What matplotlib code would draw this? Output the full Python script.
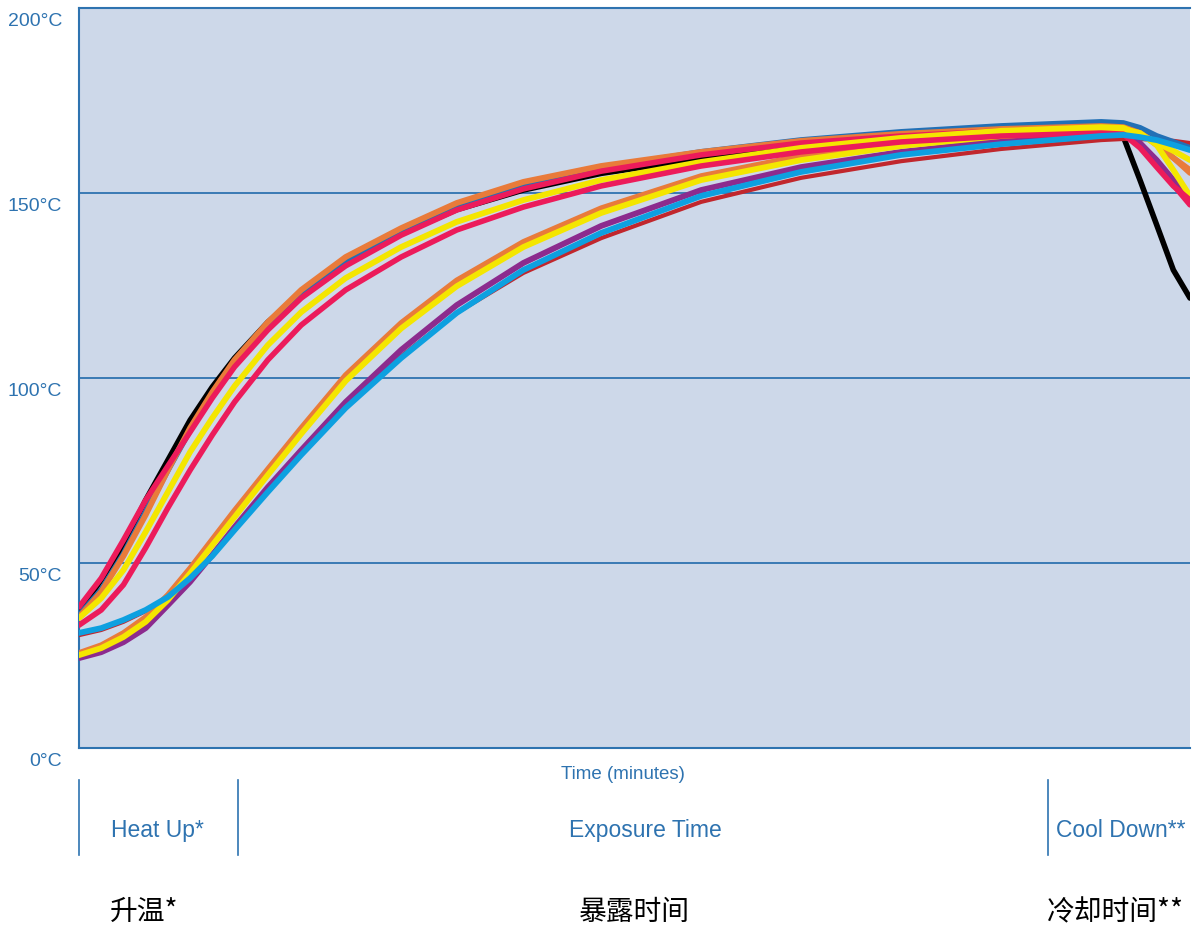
import matplotlib
matplotlib.use("Agg")
import matplotlib.pyplot as plt
import matplotlib.transforms as mtransforms

# ── data (time in arbitrary minutes 0-100, temp °C) ──
time = [0, 2, 4, 6, 8, 10, 12, 14, 17, 20, 24, 29, 34, 40, 47, 56, 65, 74,
        83, 92, 94, 95.5, 97, 98.5, 100]

dark_red = [30.5, 31.9, 34.1, 37.0, 40.5, 45.7, 51.9, 58.9, 69.7, 79.7, 92.7,
            105.9, 117.6, 128.4, 137.8, 147.6, 154.1, 158.6, 161.9, 164.3,
            164.6, 164.6, 164.3, 164.1, 163.5]
dark_blue = [35.9, 42.7, 52.4, 63.8, 75.1, 85.9, 95.4, 104.1, 114.3, 123.0,
             131.6, 139.7, 146.2, 151.9, 156.8, 161.1, 164.3, 166.5, 168.1,
             169.2, 168.9, 167.6, 165.4, 163.8, 162.2]
orange_fast = [35.4, 42.2, 51.9, 63.0, 75.1, 86.5, 96.2, 104.9, 115.1, 123.8,
               132.7, 140.5, 147.3, 153.0, 157.3, 161.1, 164.1, 166.0, 167.3,
               168.1, 167.8, 166.2, 163.0, 159.5, 156.2]
pink_1 = [38.1, 45.9, 56.2, 67.0, 76.2, 85.4, 94.6, 103.0, 113.0, 121.6,
          130.3, 138.6, 145.4, 151.1, 155.9, 160.3, 163.5, 165.4, 166.8,
          167.3, 166.8, 163.0, 157.6, 152.2, 146.8]
purple = [24.3, 25.9, 28.6, 32.4, 38.6, 44.9, 52.2, 59.7, 70.5, 80.5, 93.5,
          107.6, 119.7, 131.1, 141.1, 150.8, 157.0, 161.1, 164.1, 165.7,
          165.9, 163.5, 158.9, 153.5, 148.6]
orange_slow = [25.7, 27.8, 31.1, 35.4, 41.4, 48.6, 56.4, 64.2, 75.4, 86.5,
               100.8, 114.9, 126.4, 136.8, 145.9, 154.6, 160.0, 163.5, 165.9,
               167.3, 167.3, 166.2, 163.5, 159.5, 155.4]
yellow_slow = [25.1, 27.0, 30.0, 34.1, 40.0, 47.2, 54.8, 62.4, 73.8, 84.9,
               99.2, 113.4, 124.8, 135.4, 144.6, 153.5, 158.9, 162.7, 165.4,
               167.0, 167.3, 166.2, 163.0, 156.2, 149.2]
yellow_fast = [35.1, 40.5, 48.1, 58.4, 69.2, 80.0, 89.2, 97.8, 108.9, 117.8,
               127.0, 135.4, 142.2, 148.1, 153.5, 158.4, 162.2, 164.9, 166.8,
               167.8, 167.6, 165.7, 163.5, 161.4, 158.9]
pink_2 = [33.2, 37.3, 44.1, 54.1, 64.9, 75.1, 84.6, 93.5, 104.9, 114.3, 123.8,
          132.7, 140.0, 146.2, 151.9, 157.3, 161.1, 163.8, 165.4, 166.2, 165.9,
          162.2, 157.0, 151.9, 148.1]
light_blue = [31.1, 32.4, 34.6, 37.3, 40.8, 45.9, 51.9, 58.9, 69.2, 79.2,
              91.9, 105.4, 117.6, 129.2, 139.2, 149.2, 155.7, 160.3, 163.2,
              165.4, 165.7, 165.1, 164.3, 163.0, 161.6]
black = [36.8, 45.4, 54.9, 67.0, 77.8, 88.6, 97.6, 105.4, 115.1, 123.0, 131.0,
         139.0, 145.5, 150.8, 155.3, 159.3, 162.3, 164.2, 165.5, 166.0, 165.2,
         153.5, 141.4, 129.2, 121.6]

y_ticks = [0, 50, 100, 150, 200]
y_labels = ["0°C", "50°C", "100°C", "150°C", "200°C"]

phase_edges = [0, 14.3, 87.2]
phase_names = ["Heat Up*", "Exposure Time", "Cool Down**"]
phase_centers = [7.1, 51.0, 93.8]
phase_names_cn = ["升温*", "暴露时间", "冷却时间**"]
phase_centers_cn = [5.9, 50.0, 93.3]

# draw order: first is at the bottom
series = [
    (black,       "#000000", 4.0),
    (dark_red,    "#C1272D", 3.0),
    (dark_blue,   "#2270B6", 4.2),
    (orange_fast, "#E97B3A", 4.2),
    (pink_1,      "#EC1B5B", 4.0),
    (purple,      "#8C2B8E", 4.2),
    (orange_slow, "#E97B3A", 4.0),
    (yellow_slow, "#F4E600", 4.2),
    (yellow_fast, "#F4E600", 4.2),
    (pink_2,      "#EC1B5B", 4.0),
    (light_blue,  "#0DA0E0", 4.2),
]

BLUE = "#2E73B0"
AX_BG = "#CDD8E9"
LATIN = "Liberation Sans"
CJK = "Noto Sans CJK SC"

fig = plt.figure(figsize=(11.99, 9.27), dpi=100)
ax = fig.add_axes([79 / 1199, 1 - 748 / 927, (1190 - 79) / 1199, 740 / 927])
ax.set_facecolor(AX_BG)

for ys, col, lw in series:
    ax.plot(time, ys, color=col, linewidth=lw, solid_capstyle="round",
            solid_joinstyle="round", zorder=3)

for v in y_ticks[1:-1]:
    ax.axhline(v, color=BLUE, linewidth=1.3, zorder=1)

ax.set_xlim(0, 100)
ax.set_ylim(0, 200)
ax.set_xticks([])
ax.set_yticks([])
for side in ["left", "bottom", "top"]:
    ax.spines[side].set_color(BLUE)
    ax.spines[side].set_linewidth(1.5)
ax.spines["right"].set_visible(False)

ytrans = mtransforms.blended_transform_factory(ax.transAxes, ax.transData)
for v, lab in zip(y_ticks, y_labels):
    ax.annotate(lab, xy=(0, v), xycoords=ytrans, xytext=(-17, -5),
                textcoords="offset pixels", ha="right", va="top",
                family=LATIN, fontsize=14, color=BLUE)

trans = mtransforms.blended_transform_factory(ax.transData, ax.transAxes)

ax.text(49.0, -0.036, "Time (minutes)", transform=trans, ha="center",
        va="center", family=LATIN, fontsize=13.5, color=BLUE)

for xe in phase_edges:
    ax.plot([xe, xe], [-0.043, -0.145], transform=trans, color=BLUE,
            linewidth=1.2, clip_on=False)

for xc, name in zip(phase_centers, phase_names):
    ax.text(xc, -0.111, name, transform=trans, ha="center", va="center",
            family=LATIN, fontsize=16.5, color=BLUE)

for xc, name in zip(phase_centers_cn, phase_names_cn):
    ax.text(xc, -0.222, name, transform=trans, ha="center", va="center",
            family=[CJK, "DejaVu Sans"], fontsize=20, color="black")

fig.savefig("out.png", dpi=100)
